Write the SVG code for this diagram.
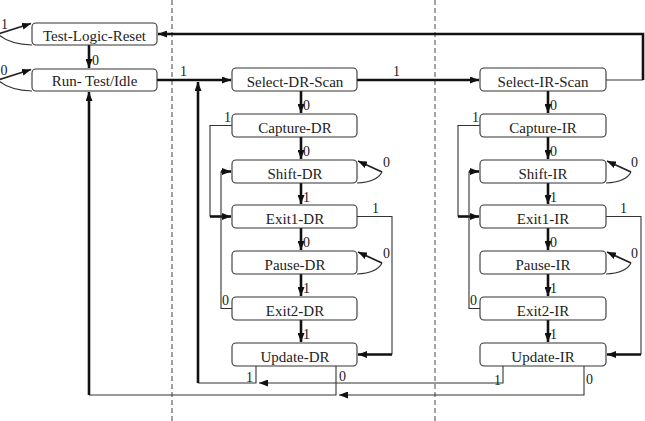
<svg xmlns="http://www.w3.org/2000/svg" width="645" height="421" viewBox="0 0 645 421">
<defs>
<style>
.box{fill:#fff;stroke:#333;stroke-width:1.1}
.nt{font-family:'Liberation Serif','DejaVu Serif',serif;font-size:15px;fill:#222;text-anchor:middle}
.lb{font-family:'Liberation Serif','DejaVu Serif',serif;font-size:14px;fill:#222}
.thin{fill:none;stroke:#333;stroke-width:1.1}
.thick{fill:none;stroke:#111;stroke-width:2.6}
.mid{fill:none;stroke:#222;stroke-width:1.8}
.dash{stroke:#444;stroke-width:1;stroke-dasharray:5,3}
</style>
<marker id="ah" viewBox="0 0 9 7" refX="9" refY="3.5" markerWidth="9" markerHeight="7" markerUnits="userSpaceOnUse" orient="auto">
<path d="M0,0 L9,3.5 L0,7 z" fill="#111"/>
</marker>
</defs>
<rect width="645" height="421" fill="#fff"/>
<line class="dash" x1="172" y1="0" x2="172" y2="421"/>
<line class="dash" x1="435" y1="0" x2="435" y2="421"/>

<g id="connectors">
<path class="thick" d="M89,45 V68" marker-end="url(#ah)"/>
<path class="thick" d="M157,80 H231" marker-end="url(#ah)"/>
<path class="thick" d="M357,80 H479" marker-end="url(#ah)"/>
<path class="thin" d="M606,80 H643"/>
<path class="thick" d="M643,80 V34 H158" marker-end="url(#ah)"/>
<path class="thick" d="M301,91 V113" marker-end="url(#ah)"/>
<path class="thick" d="M301,137 V159" marker-end="url(#ah)"/>
<path class="thick" d="M301,183 V204" marker-end="url(#ah)"/>
<path class="thick" d="M301,228 V250" marker-end="url(#ah)"/>
<path class="thick" d="M301,274 V296" marker-end="url(#ah)"/>
<path class="thick" d="M301,320 V342" marker-end="url(#ah)"/>
<path class="thick" d="M548,91 V113" marker-end="url(#ah)"/>
<path class="thick" d="M548,137 V159" marker-end="url(#ah)"/>
<path class="thick" d="M548,183 V204" marker-end="url(#ah)"/>
<path class="thick" d="M548,228 V250" marker-end="url(#ah)"/>
<path class="thick" d="M548,274 V296" marker-end="url(#ah)"/>
<path class="thick" d="M548,320 V342" marker-end="url(#ah)"/>
<path class="thin" d="M232,125.5 H210 V216.5"/>
<path class="thick" d="M210,216.5 H231" marker-end="url(#ah)"/>
<path class="thin" d="M232,308.5 H221 V171.5"/>
<path class="thick" d="M221,171.5 H231" marker-end="url(#ah)"/>
<path class="thin" d="M357,216.5 H392 V354.5"/>
<path class="thick" d="M392,354.5 H358" marker-end="url(#ah)"/>
<path class="thin" d="M480,125.5 H458 V216.5"/>
<path class="thick" d="M458,216.5 H479" marker-end="url(#ah)"/>
<path class="thin" d="M480,308.5 H469 V171.5"/>
<path class="thick" d="M469,171.5 H479" marker-end="url(#ah)"/>
<path class="thin" d="M606,216.5 H641 V354.5"/>
<path class="thick" d="M641,354.5 H607" marker-end="url(#ah)"/>
<path class="thin" d="M357,183 Q377,182 382,172"/>
<path class="mid" d="M382,172 L358,161" marker-end="url(#ah)"/>
<path class="thin" d="M357,274 Q377,273 382,263"/>
<path class="mid" d="M382,263 L358,252" marker-end="url(#ah)"/>
<path class="thin" d="M606,183 Q626,182 631,172"/>
<path class="mid" d="M631,172 L607,161" marker-end="url(#ah)"/>
<path class="thin" d="M606,274 Q626,273 631,263"/>
<path class="mid" d="M631,263 L607,252" marker-end="url(#ah)"/>
<path class="thin" d="M32,45 Q8,44 -2,34"/>
<path class="mid" d="M-2,34 L31,23.5" marker-end="url(#ah)"/>
<path class="thin" d="M32,91 Q8,90 -2,80"/>
<path class="mid" d="M-2,80 L31,69.5" marker-end="url(#ah)"/>
<path class="thin" d="M256,366 V383 H198"/>
<path class="thin" d="M503,366 V383 H259" marker-end="url(#ah)"/>
<path class="thick" d="M198,383 V82" marker-end="url(#ah)"/>
<path class="thin" d="M336,366 V395 H89"/>
<path class="thin" d="M584,366 V395 H339" marker-end="url(#ah)"/>
<path class="thick" d="M89,395 V92" marker-end="url(#ah)"/>
</g>

<g font-family="Liberation Serif, DejaVu Serif, serif">
<g id="tlr"><rect class="box" x="32" y="23" width="125" height="22" rx="4"/><text class="nt" x="94.5" y="40.5">Test-Logic-Reset</text></g>
<g id="rti"><rect class="box" x="32" y="69" width="125" height="22" rx="4"/><text class="nt" x="94.5" y="86">Run- Test/Idle</text></g>

<g id="select-dr"><rect class="box" x="232" y="68" width="125" height="23" rx="4"/><text class="nt" x="295" y="87">Select-DR-Scan</text></g>
<g id="capture-dr"><rect class="box" x="232" y="114" width="125" height="23" rx="4"/><text class="nt" x="295" y="133">Capture-DR</text></g>
<g id="shift-dr"><rect class="box" x="232" y="160" width="125" height="23" rx="4"/><text class="nt" x="295" y="179">Shift-DR</text></g>
<g id="exit1-dr"><rect class="box" x="232" y="205" width="125" height="23" rx="4"/><text class="nt" x="295" y="224">Exit1-DR</text></g>
<g id="pause-dr"><rect class="box" x="232" y="251" width="125" height="23" rx="4"/><text class="nt" x="295" y="270">Pause-DR</text></g>
<g id="exit2-dr"><rect class="box" x="232" y="297" width="125" height="23" rx="4"/><text class="nt" x="295" y="316">Exit2-DR</text></g>
<g id="update-dr"><rect class="box" x="232" y="343" width="125" height="23" rx="4"/><text class="nt" x="295" y="362">Update-DR</text></g>

<g id="select-ir"><rect class="box" x="480" y="68" width="126" height="23" rx="4"/><text class="nt" x="543" y="87">Select-IR-Scan</text></g>
<g id="capture-ir"><rect class="box" x="480" y="114" width="126" height="23" rx="4"/><text class="nt" x="543" y="133">Capture-IR</text></g>
<g id="shift-ir"><rect class="box" x="480" y="160" width="126" height="23" rx="4"/><text class="nt" x="543" y="179">Shift-IR</text></g>
<g id="exit1-ir"><rect class="box" x="480" y="205" width="126" height="23" rx="4"/><text class="nt" x="543" y="224">Exit1-IR</text></g>
<g id="pause-ir"><rect class="box" x="480" y="251" width="126" height="23" rx="4"/><text class="nt" x="543" y="270">Pause-IR</text></g>
<g id="exit2-ir"><rect class="box" x="480" y="297" width="126" height="23" rx="4"/><text class="nt" x="543" y="316">Exit2-IR</text></g>
<g id="update-ir"><rect class="box" x="480" y="343" width="126" height="23" rx="4"/><text class="nt" x="543" y="362">Update-IR</text></g>

<g id="labels">
<text class="lb" x="1" y="29">1</text>
<text class="lb" x="0.5" y="75">0</text>
<text class="lb" x="92" y="65">0</text>
<text class="lb" x="180" y="76">1</text>
<text class="lb" x="393" y="76">1</text>
<text class="lb" x="303" y="110">0</text>
<text class="lb" x="303" y="156">0</text>
<text class="lb" x="303" y="202">1</text>
<text class="lb" x="303" y="247">0</text>
<text class="lb" x="303" y="293">1</text>
<text class="lb" x="303" y="339">1</text>
<text class="lb" x="550" y="110">0</text>
<text class="lb" x="550" y="156">0</text>
<text class="lb" x="550" y="202">1</text>
<text class="lb" x="550" y="247">0</text>
<text class="lb" x="550" y="293">1</text>
<text class="lb" x="550" y="339">1</text>
<text class="lb" x="224" y="122">1</text>
<text class="lb" x="472" y="122">1</text>
<text class="lb" x="222" y="305">0</text>
<text class="lb" x="470" y="305">0</text>
<text class="lb" x="372" y="213">1</text>
<text class="lb" x="620" y="213">1</text>
<text class="lb" x="383" y="167">0</text>
<text class="lb" x="631" y="167">0</text>
<text class="lb" x="383" y="258">0</text>
<text class="lb" x="631" y="258">0</text>
<text class="lb" x="246" y="382">1</text>
<text class="lb" x="339" y="381">0</text>
<text class="lb" x="494" y="385">1</text>
<text class="lb" x="586" y="384">0</text>
</g>
</g>
</svg>
